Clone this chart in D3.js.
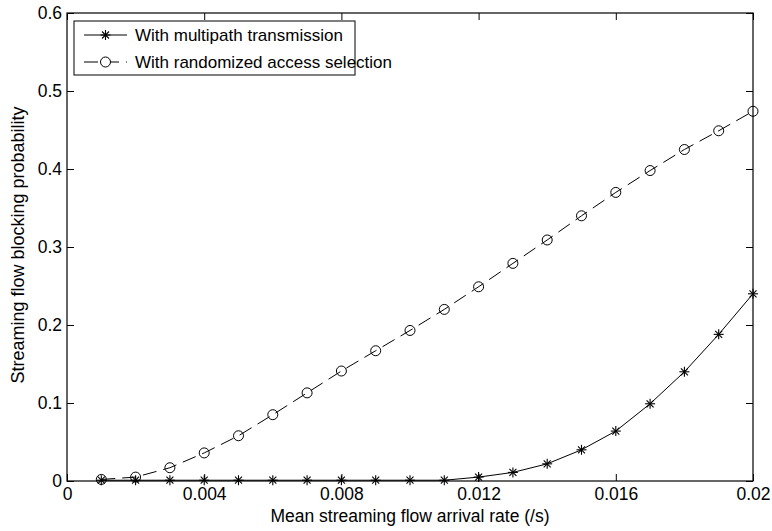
<!DOCTYPE html>
<html>
<head>
<meta charset="utf-8">
<script src="https://cdn.jsdelivr.net/npm/d3@7"></script>
<style>
  body { margin: 0; background: #fff; }
  text { font-family: Arial, "Liberation Sans", sans-serif; }
</style>
</head>
<body>
<div id="vis"></div>
<script>
// arrival rates (/s)
var rates = [0.001, 0.002, 0.003, 0.004, 0.005, 0.006, 0.007, 0.008, 0.009, 0.010,
             0.011, 0.012, 0.013, 0.014, 0.015, 0.016, 0.017, 0.018, 0.019, 0.020];
// blocking probability, multipath transmission
var multipath = [0.001, 0.001, 0.001, 0.001, 0.001, 0.001, 0.001, 0.001, 0.001, 0.001,
                 0.001, 0.005, 0.011, 0.022, 0.040, 0.064, 0.099, 0.140, 0.188, 0.240];
// blocking probability, randomized access selection
var randomized = [0.002, 0.005, 0.017, 0.036, 0.058, 0.085, 0.113, 0.141, 0.167, 0.193,
                  0.220, 0.249, 0.279, 0.309, 0.340, 0.370, 0.398, 0.425, 0.449, 0.474];
var xTicks = [0, 0.004, 0.008, 0.012, 0.016, 0.02];
var yTicks = [0, 0.1, 0.2, 0.3, 0.4, 0.5, 0.6];
var seriesNames = ['With multipath transmission', 'With randomized access selection'];

var width = 772;
var height = 531;
var margin = { left: 67, right: 19, top: 13, bottom: 50 };

var svg = d3.select('#vis').append('svg')
  .attr('width', width)
  .attr('height', height);

var x = d3.scaleLinear().domain([0, 0.02]).range([margin.left, width - margin.right]);
var y = d3.scaleLinear().domain([0, 0.6]).range([height - margin.bottom, margin.top]);

var tickLen = 7;
var fmtX = function (d) { return d === 0 ? '0' : d3.format('.3~f')(d); };
var fmtY = function (d) { return d === 0 ? '0' : d3.format('.1f')(d); };

function styleAxis(g) {
  g.select('.domain').remove();
  g.selectAll('line').attr('stroke', '#000').attr('stroke-width', 1);
  g.selectAll('text').attr('fill', '#000').style('font-size', '17.5px');
}

// bottom & left axes, ticks pointing inward
svg.append('g')
  .attr('transform', 'translate(0,' + y(0) + ')')
  .call(d3.axisBottom(x).tickValues(xTicks).tickFormat(fmtX).tickSizeInner(-tickLen).tickSizeOuter(0).tickPadding(7))
  .call(styleAxis);

svg.append('g')
  .attr('transform', 'translate(' + x(0) + ',0)')
  .call(d3.axisLeft(y).tickValues(yTicks).tickFormat(fmtY).tickSizeInner(-tickLen).tickSizeOuter(0).tickPadding(5))
  .call(styleAxis);

// top & right ticks without labels
svg.append('g')
  .attr('transform', 'translate(0,' + y(0.6) + ')')
  .call(d3.axisTop(x).tickValues(xTicks).tickFormat('').tickSizeInner(-tickLen).tickSizeOuter(0))
  .call(styleAxis);

svg.append('g')
  .attr('transform', 'translate(' + x(0.02) + ',0)')
  .call(d3.axisRight(y).tickValues(yTicks).tickFormat('').tickSizeInner(-tickLen).tickSizeOuter(0))
  .call(styleAxis);

// plot box
svg.append('rect')
  .attr('x', x(0)).attr('y', y(0.6))
  .attr('width', x(0.02) - x(0)).attr('height', y(0) - y(0.6))
  .attr('fill', 'none').attr('stroke', '#000').attr('stroke-width', 1.2);

var line = d3.line()
  .x(function (d) { return x(d[0]); })
  .y(function (d) { return y(d[1]); });

var multiData = rates.map(function (r, i) { return [r, multipath[i]]; });
var randData = rates.map(function (r, i) { return [r, randomized[i]]; });

svg.append('path')
  .datum(randData)
  .attr('d', line)
  .attr('fill', 'none').attr('stroke', '#000').attr('stroke-width', 1)
  .attr('stroke-dasharray', '14,7');

svg.append('path')
  .datum(multiData)
  .attr('d', line)
  .attr('fill', 'none').attr('stroke', '#000').attr('stroke-width', 1);

function star(g, cx, cy, s) {
  var gg = g.append('g').attr('transform', 'translate(' + cx + ',' + cy + ')')
    .attr('stroke', '#000').attr('stroke-width', 1.1);
  gg.append('line').attr('x1', -s).attr('x2', s).attr('y1', 0).attr('y2', 0);
  gg.append('line').attr('x1', 0).attr('x2', 0).attr('y1', -s).attr('y2', s);
  var k = s * 0.7;
  gg.append('line').attr('x1', -k).attr('x2', k).attr('y1', -k).attr('y2', k);
  gg.append('line').attr('x1', -k).attr('x2', k).attr('y1', k).attr('y2', -k);
}

svg.selectAll('.circ')
  .data(randData)
  .enter().append('circle')
  .attr('class', 'circ')
  .attr('cx', function (d) { return x(d[0]); })
  .attr('cy', function (d) { return y(d[1]); })
  .attr('r', 5)
  .attr('fill', 'none').attr('stroke', '#000').attr('stroke-width', 1);

var starsG = svg.append('g');
multiData.forEach(function (d) { star(starsG, x(d[0]), y(d[1]), 5); });

// legend
var lg = svg.append('g');
lg.append('rect')
  .attr('x', 74).attr('y', 21).attr('width', 281).attr('height', 54)
  .attr('fill', '#fff').attr('stroke', '#000').attr('stroke-width', 1);

var rows = [35, 62];
lg.append('line').attr('x1', 84).attr('x2', 127).attr('y1', rows[0]).attr('y2', rows[0])
  .attr('stroke', '#000');
star(lg, 105.5, rows[0], 5);
lg.append('line').attr('x1', 84).attr('x2', 127).attr('y1', rows[1]).attr('y2', rows[1])
  .attr('stroke', '#000').attr('stroke-dasharray', '14,7');
lg.append('circle').attr('cx', 105.5).attr('cy', rows[1]).attr('r', 5)
  .attr('fill', '#fff').attr('stroke', '#000');

lg.selectAll('.lt')
  .data(seriesNames)
  .enter().append('text')
  .attr('class', 'lt')
  .attr('x', 135)
  .attr('y', function (d, i) { return rows[i]; })
  .attr('dy', '0.35em')
  .style('font-size', '17px')
  .text(function (d) { return d; });

// axis titles
svg.append('text')
  .attr('x', (x(0) + x(0.02)) / 2)
  .attr('y', 522)
  .attr('text-anchor', 'middle')
  .style('font-size', '17.5px')
  .text('Mean streaming flow arrival rate (/s)');

svg.append('text')
  .attr('transform', 'translate(24,' + 245 + ') rotate(-90)')
  .attr('text-anchor', 'middle')
  .style('font-size', '18px')
  .text('Streaming flow blocking probability');
</script>
</body>
</html>
